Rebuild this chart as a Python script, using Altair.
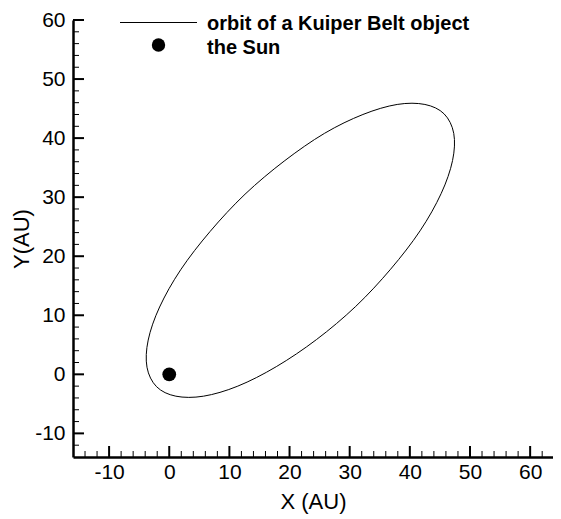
import altair as alt
import pandas as pd

# Orbit points (AU)
orbit_x = [45.7, 42.5, 37.9, 32.2, 25.8, 19.1, 12.6, 6.8, 1.9, -1.6, -3.5, -3.7,
           -2.1, 1.1, 5.7, 11.4, 17.8, 24.5, 31.0, 36.8, 41.7, 45.2, 47.1, 47.3]
orbit_y = [44.1, 45.7, 45.7, 44.0, 40.8, 36.1, 30.5, 24.2, 17.7, 11.4, 5.8, 1.2,
           -2.1, -3.7, -3.7, -2.0, 1.3, 5.9, 11.5, 17.8, 24.3, 30.6, 36.2, 40.8]
sun_x = [0.0]
sun_y = [0.0]

legend_labels = ["orbit of a Kuiper Belt object", "the Sun"]

x_major = [-10, 0, 10, 20, 30, 40, 50, 60]
x_minor = [v for v in range(-14, 64, 2) if v % 10 != 0]
y_major = [-10, 0, 10, 20, 30, 40, 50, 60]
y_minor = [v for v in range(-12, 60, 2) if v % 10 != 0]

X_DOMAIN = [-16, 63.8]
Y_DOMAIN = [-14, 60]
W = 480
H = 437
TOP = 12
FONT = "Liberation Sans"
LABEL_EXPR = "datum.value < 0 ? '-' + abs(datum.value) : '' + datum.value"

orbit_df = pd.DataFrame({"x": orbit_x, "y": orbit_y, "i": list(range(len(orbit_x)))})
sun_df = pd.DataFrame({"x": sun_x, "y": sun_y})

xscale = alt.Scale(domain=X_DOMAIN, nice=False, zero=False)
yscale = alt.Scale(domain=Y_DOMAIN, nice=False, zero=False)

xaxis = alt.Axis(values=x_major, ticks=False, grid=False, domainColor="black",
                 domainWidth=2.5, labelFontSize=21, labelFont=FONT, labelColor="black",
                 labelPadding=4, labelExpr=LABEL_EXPR,
                 title="X (AU)", titleFontSize=22, titleFont=FONT,
                 titleFontWeight="normal", titleColor="black", titlePadding=9,
                 labelFlush=False, labelOverlap=False)
yaxis = alt.Axis(values=y_major, ticks=False, grid=False, domainColor="black",
                 domainWidth=2.5, labelFontSize=21, labelFont=FONT, labelColor="black",
                 labelPadding=8, labelExpr=LABEL_EXPR,
                 title="Y(AU)", titleFontSize=22, titleFont=FONT,
                 titleFontWeight="normal", titleColor="black", titlePadding=1,
                 labelFlush=False, labelOverlap=False)

X = lambda f: alt.X(f, type="quantitative", scale=xscale, axis=xaxis)
Y = lambda f: alt.Y(f, type="quantitative", scale=yscale, axis=yaxis)

orbit = alt.Chart(orbit_df).mark_line(
    interpolate="cardinal-closed", color="black", strokeWidth=1.0
).encode(x=X("x"), y=Y("y"), order="i:Q")

sun = alt.Chart(sun_df).mark_circle(size=190, color="black", opacity=1).encode(
    x=X("x"), y=Y("y"))

def xticks(vals, length, width):
    return alt.Chart(pd.DataFrame({"v": vals})).mark_rule(
        color="black", strokeWidth=width).encode(
        x=X("v"), y=alt.value(H), y2=alt.value(H - length))

def yticks(vals, length, width):
    return alt.Chart(pd.DataFrame({"v": vals})).mark_rule(
        color="black", strokeWidth=width).encode(
        y=Y("v"), x=alt.value(0), x2=alt.value(length))

dy = 8 - TOP
leg_df = pd.DataFrame({"label": legend_labels})
leg_line = alt.Chart(leg_df.iloc[[0]]).mark_rule(color="black", strokeWidth=1.1).encode(
    x=alt.value(47), x2=alt.value(124), y=alt.value(6.5 + dy))
leg_dot = alt.Chart(leg_df.iloc[[1]]).mark_circle(size=180, color="black", opacity=1).encode(
    x=alt.value(85.5), y=alt.value(29 + dy))
leg_text1 = alt.Chart(leg_df.iloc[[0]]).mark_text(
    align="left", baseline="alphabetic", font=FONT, fontSize=20, fontWeight="bold",
    color="black").encode(x=alt.value(134), y=alt.value(13.5 + dy), text="label:N")
leg_text2 = alt.Chart(leg_df.iloc[[1]]).mark_text(
    align="left", baseline="alphabetic", font=FONT, fontSize=20, fontWeight="bold",
    color="black").encode(x=alt.value(134), y=alt.value(37.5 + dy), text="label:N")

chart = alt.layer(
    orbit, sun,
    xticks(x_minor, 6, 1), xticks(x_major, 11, 2),
    yticks(y_minor, 6, 1), yticks(y_major, 11, 2),
    leg_line, leg_dot, leg_text1, leg_text2,
).properties(
    width=W, height=H,
    autosize=alt.AutoSizeParams(type="none"),
    padding={"left": 65, "top": TOP, "right": 0, "bottom": 58},
    background="white",
).configure_view(stroke=None)

chart.save("out.html", embed_options={"renderer": "svg", "actions": False})
